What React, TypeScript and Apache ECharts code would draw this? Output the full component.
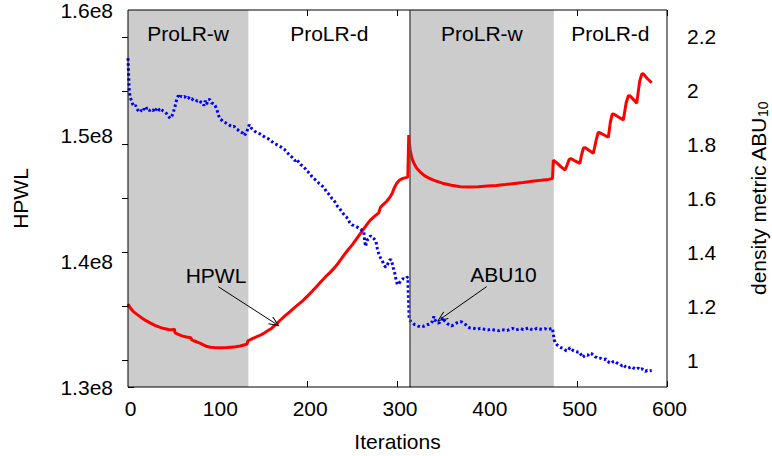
import React, { useEffect, useRef } from "react";
import * as echarts from "echarts";

const FONT = "'Liberation Sans', Arial, Helvetica, sans-serif";

// x-axis ticks (iterations) and y-axis tick values
const iterationTicks = [0, 100, 200, 300, 400, 500, 600];
const hpwlTicks = [1.3, 1.4, 1.5, 1.6]; // in units of 1e8
const abuTicks = [1, 1.2, 1.4, 1.6, 1.8, 2, 2.2];

// optimisation phases
const phaseNames = ["ProLR-w", "ProLR-d", "ProLR-w", "ProLR-d"];
const phaseStarts = [0, 134, 314, 474];
const phaseEnds = [134, 314, 474, 600];
const phaseShaded = [true, false, true, false];
const phaseSwitchIteration = 314;

// HPWL (units of 1e8), [iteration, value]
const hpwlSeries: [number, number][] = [
  [0, 1.366], [3, 1.3625], [6, 1.36], [10, 1.3578], [15, 1.3552], [20, 1.3528], [25, 1.3508],
  [30, 1.349], [35, 1.3476], [40, 1.3465], [45, 1.3458], [50, 1.3455], [51.5, 1.3462], [52.5, 1.343],
  [56, 1.3418], [60, 1.3407], [65, 1.3398], [70, 1.3392], [71, 1.3375], [73, 1.3368], [77, 1.3358],
  [80, 1.3349], [84, 1.3335], [88, 1.3322], [92, 1.3316], [96, 1.3314], [100, 1.3313], [105, 1.3312],
  [110, 1.3314], [115, 1.3317], [120, 1.332], [125, 1.3326], [130, 1.3336], [132.5, 1.3342],
  [133.5, 1.3368], [137, 1.338], [141, 1.3392], [146, 1.3408], [150, 1.3422], [155, 1.3445],
  [160, 1.3468], [165, 1.35], [170, 1.3535], [175, 1.3568], [180, 1.3598], [185, 1.363], [190, 1.366],
  [195, 1.369], [200, 1.3725], [205, 1.3762], [210, 1.38], [215, 1.384], [220, 1.3878], [225, 1.3912],
  [230, 1.395], [235, 1.3995], [240, 1.4045], [245, 1.4092], [250, 1.4135], [255, 1.4185], [260, 1.4235],
  [265, 1.4285], [270, 1.433], [275, 1.4362], [279, 1.4385], [281, 1.4428], [284, 1.4452], [288, 1.4478],
  [292, 1.4515], [294, 1.454], [296, 1.4578], [299, 1.462], [302, 1.4645], [306, 1.466], [311.5, 1.467],
  [312.5, 1.5005], [314, 1.489], [316, 1.482], [318, 1.4785], [321, 1.4745], [325, 1.4712], [330, 1.4682],
  [335, 1.4662], [340, 1.4646], [350, 1.4622], [360, 1.4606], [370, 1.4594], [380, 1.4592], [390, 1.4594],
  [400, 1.4599], [410, 1.4604], [420, 1.4611], [430, 1.4619], [440, 1.4627], [450, 1.4637], [460, 1.4645],
  [468, 1.4652], [472.5, 1.4658], [473.5, 1.4806], [478, 1.478], [482, 1.4752], [486.5, 1.4727],
  [489, 1.477], [491, 1.481], [493, 1.4818], [497, 1.4802], [503, 1.478], [505, 1.485], [507, 1.4902],
  [509, 1.4905], [513, 1.4884], [518, 1.486], [521, 1.496], [523.5, 1.5028], [526, 1.502], [530, 1.5005],
  [534.7, 1.4987], [537, 1.511], [539, 1.5172], [541, 1.517], [546, 1.5148], [551.4, 1.5125],
  [554.5, 1.526], [557, 1.5318], [559, 1.5315], [563, 1.5285], [566.3, 1.5258], [569.5, 1.543],
  [572, 1.5492], [574, 1.549], [578, 1.5455], [583, 1.5421],
];

// density metric ABU10, [iteration, value]
const abuSeries: [number, number][] = [
  [0, 2.121], [0.7, 2.06], [1.4, 2.0], [2.5, 1.975], [4, 1.962], [5.5, 1.948], [7, 1.942], [8.5, 1.946],
  [10, 1.932], [12, 1.924], [13.5, 1.921], [15, 1.928], [16.5, 1.924], [18, 1.933], [19.5, 1.926],
  [21, 1.938], [22.5, 1.93], [24, 1.927], [26, 1.931], [28, 1.926], [29.5, 1.936], [31, 1.929],
  [33, 1.938], [35, 1.927], [37, 1.932], [39, 1.925], [41, 1.922], [43, 1.915], [45, 1.905], [47, 1.898],
  [48.5, 1.903], [50, 1.915], [51.5, 1.932], [53, 1.95], [54.5, 1.972], [56, 1.982], [57.5, 1.974],
  [59, 1.98], [61, 1.976], [63, 1.979], [65, 1.972], [67, 1.976], [69, 1.968], [71, 1.971], [73, 1.964],
  [75, 1.967], [77, 1.962], [79, 1.965], [81, 1.958], [83, 1.955], [84.5, 1.945], [86, 1.963],
  [87.5, 1.95], [89, 1.966], [91, 1.968], [93, 1.955], [95, 1.952], [97, 1.945], [99, 1.93],
  [100.5, 1.912], [102, 1.898], [104, 1.892], [106, 1.885], [108, 1.882], [110, 1.878], [112, 1.875],
  [114, 1.87], [116, 1.866], [118, 1.868], [120, 1.86], [122, 1.856], [124, 1.85], [126, 1.846],
  [128, 1.842], [129, 1.834], [131, 1.84], [132, 1.844], [133.5, 1.862], [135, 1.874], [137, 1.862],
  [139, 1.856], [141, 1.85], [143, 1.846], [145, 1.842], [147, 1.84], [150, 1.833], [153, 1.826],
  [156, 1.822], [159, 1.815], [162, 1.806], [165, 1.801], [168, 1.795], [171, 1.79], [174, 1.783],
  [177, 1.772], [180, 1.76], [183, 1.752], [186, 1.74], [188, 1.746], [190, 1.735], [192, 1.726],
  [195, 1.72], [197, 1.712], [199, 1.702], [201, 1.697], [203, 1.69], [205, 1.68], [207, 1.674],
  [209, 1.668], [211, 1.662], [213, 1.655], [215, 1.65], [217, 1.644], [219, 1.636], [221, 1.625],
  [223, 1.618], [225, 1.61], [227, 1.6], [229, 1.594], [231, 1.584], [233, 1.572], [235, 1.566],
  [237, 1.556], [239, 1.546], [241, 1.538], [243, 1.532], [245, 1.522], [247, 1.51], [249, 1.502],
  [251, 1.5], [253, 1.497], [255, 1.494], [257, 1.49], [259, 1.486], [261, 1.48], [262.5, 1.478],
  [263.5, 1.44], [264.5, 1.422], [266, 1.445], [268, 1.45], [270, 1.462], [272, 1.455], [274, 1.45],
  [276, 1.44], [277.5, 1.415], [279, 1.396], [281, 1.38], [283, 1.37], [285, 1.352], [287, 1.345],
  [289, 1.356], [291, 1.37], [292.5, 1.374], [294, 1.36], [295.5, 1.34], [297, 1.322], [298.5, 1.296],
  [300, 1.28], [302, 1.286], [304, 1.297], [306, 1.302], [308, 1.3], [310, 1.306], [311.5, 1.308],
  [312, 1.25], [312.5, 1.2], [313, 1.15], [315, 1.143], [317, 1.138], [319, 1.132], [321, 1.13],
  [323, 1.126], [325, 1.124], [327, 1.127], [329, 1.125], [331, 1.128], [333, 1.131], [335, 1.133],
  [337, 1.136], [339, 1.144], [340.5, 1.162], [342, 1.148], [343.5, 1.142], [345, 1.137], [347, 1.14],
  [349, 1.15], [350.5, 1.158], [352, 1.147], [354, 1.14], [356, 1.134], [358, 1.131], [360, 1.127],
  [362, 1.13], [364, 1.134], [366, 1.138], [368, 1.14], [370, 1.143], [372, 1.141], [374, 1.136],
  [376, 1.131], [378, 1.124], [380, 1.12], [383, 1.119], [386, 1.117], [389, 1.114], [392, 1.118],
  [395, 1.116], [398, 1.113], [401, 1.112], [404, 1.115], [407, 1.112], [410, 1.111], [413, 1.109],
  [416, 1.113], [419, 1.112], [422, 1.11], [425, 1.114], [428, 1.118], [431, 1.112], [434, 1.114],
  [437, 1.117], [440, 1.113], [443, 1.116], [446, 1.12], [449, 1.114], [452, 1.112], [455, 1.118],
  [458, 1.115], [461, 1.114], [464, 1.117], [467, 1.113], [470, 1.116], [472.5, 1.118], [473.5, 1.095],
  [474.5, 1.075], [476, 1.062], [478, 1.055], [480, 1.05], [482, 1.046], [484, 1.044], [486, 1.04],
  [488, 1.034], [490, 1.036], [492, 1.046], [494, 1.04], [496, 1.034], [498, 1.032], [500, 1.03],
  [502, 1.031], [504, 1.022], [506, 1.01], [508, 1.016], [510, 1.02], [512, 1.018], [514, 1.026],
  [516, 1.024], [518, 1.018], [520, 1.012], [522, 1.01], [524, 1.006], [526, 1.007], [528, 1.003],
  [530, 1.002], [532, 1.004], [534, 0.996], [536, 0.99], [538, 0.988], [540, 0.994], [542, 0.996],
  [544, 0.99], [546, 0.987], [548, 0.984], [550, 0.978], [552, 0.982], [554, 0.974], [556, 0.97],
  [558, 0.972], [560, 0.976], [562, 0.972], [564, 0.969], [566, 0.966], [568, 0.97], [570, 0.964],
  [572, 0.968], [574, 0.962], [576, 0.958], [578, 0.962], [580, 0.96], [583, 0.961],
];

// annotations: label position and arrow [from, to] in data coordinates
const hpwlLabelAt: [number, number] = [98, 1.3891];
const hpwlArrow: [number, number][] = [[100.5, 1.3798], [163.6, 1.3507]];
const abuLabelAt: [number, number] = [418, 1.3163];
const abuArrow: [number, number][] = [[399.3, 1.2729], [349.2, 1.1556]];

const ARROW = "path://M5,0L10,12L9,12.6L5,2.6L1,12.6L0,12Z";
const TXT = { fontFamily: FONT, fontSize: 21, color: "#000" };

function buildOption() {
  const tickStyle = { show: true, inside: true, length: 6, lineStyle: { color: "#000", width: 1 } };
  const areas = phaseNames.map((name, i) => [
    {
      name,
      xAxis: phaseStarts[i],
      itemStyle: { color: phaseShaded[i] ? "#cccccc" : "rgba(0,0,0,0)" },
    },
    { xAxis: phaseEnds[i] },
  ]);
  return {
    animation: false,
    textStyle: { fontFamily: FONT },
    grid: {
      left: 128, right: 105, top: 10, bottom: 69,
      outerBoundsMode: "none", containLabel: false,
      show: true, borderColor: "#000", borderWidth: 1, backgroundColor: "rgba(0,0,0,0)", z: 6,
    },
    xAxis: [
      {
        type: "value", min: iterationTicks[0], max: iterationTicks[iterationTicks.length - 1],
        interval: 100, position: "bottom",
        name: "Iterations", nameLocation: "middle", nameGap: 44, nameTextStyle: TXT,
        axisLine: { show: false }, axisTick: tickStyle,
        axisLabel: { ...TXT, margin: 11, padding: [0, 0, 0, 5] }, splitLine: { show: false },
      },
      {
        type: "value", min: iterationTicks[0], max: iterationTicks[iterationTicks.length - 1],
        interval: 100, position: "top",
        axisLine: { show: false }, axisTick: tickStyle,
        axisLabel: { show: false }, splitLine: { show: false },
      },
    ],
    yAxis: [
      {
        type: "value", min: hpwlTicks[0], max: hpwlTicks[hpwlTicks.length - 1], interval: 0.1,
        position: "left", name: "HPWL", nameLocation: "middle", nameGap: 97, nameTextStyle: TXT,
        axisLine: { show: false }, axisTick: tickStyle,
        axisLabel: { ...TXT, margin: 15, formatter: (v: number) => v.toFixed(1) + "e8" },
        splitLine: { show: false },
      },
      {
        type: "value", min: 0.9, max: 2.3, position: "right",
        name: "{a|density metric ABU}{b|10}", nameLocation: "middle", nameGap: 79,
        nameTextStyle: {
          color: "#000",
          rich: {
            a: { fontFamily: FONT, fontSize: 21, color: "#000", lineHeight: 24 },
            b: { fontFamily: FONT, fontSize: 14, color: "#000", lineHeight: 14, verticalAlign: "bottom" },
          },
        },
        axisLine: { show: false },
        axisTick: { ...tickStyle, customValues: abuTicks },
        axisLabel: {
          ...TXT, margin: 20, customValues: abuTicks,
          formatter: (v: number) => String(Number(v.toFixed(1))),
        },
        splitLine: { show: false },
      },
    ],
    series: [
      {
        type: "line", name: "HPWL", xAxisIndex: 0, yAxisIndex: 0, data: hpwlSeries,
        symbol: "none", showSymbol: false, z: 3,
        lineStyle: { color: "#ff0000", width: 3 }, itemStyle: { color: "#ff0000" },
        markArea: {
          silent: true, z: 1,
          label: { show: true, position: "insideTop", distance: 13, ...TXT },
          data: areas,
        },
        markLine: {
          silent: true, symbol: ["none", "none"], label: { show: false }, z: 5,
          lineStyle: { type: "solid" },
          data: [
            { xAxis: phaseSwitchIteration, lineStyle: { color: "#555555", width: 1.5, type: "solid" } },
            [
              { coord: hpwlArrow[0], symbol: "none", lineStyle: { color: "#000", width: 1, type: "solid" } },
              { coord: hpwlArrow[1], symbol: ARROW, symbolSize: [9, 11] },
            ],
          ],
        },
        markPoint: {
          silent: true, symbol: "circle", symbolSize: 1, itemStyle: { color: "rgba(0,0,0,0)" },
          label: { show: true, position: "inside", ...TXT, formatter: "{b}" },
          data: [{ name: "HPWL", coord: hpwlLabelAt }],
        },
      },
      {
        type: "line", name: "ABU10", xAxisIndex: 0, yAxisIndex: 1, data: abuSeries,
        symbol: "none", showSymbol: false, z: 3,
        lineStyle: { color: "#0000ff", width: 3, type: [2.5, 2.5] }, itemStyle: { color: "#0000ff" },
        markLine: {
          silent: true, symbol: ["none", "none"], label: { show: false }, z: 5,
          data: [
            [
              { coord: abuArrow[0], symbol: "none", lineStyle: { color: "#000", width: 1, type: "solid" } },
              { coord: abuArrow[1], symbol: ARROW, symbolSize: [9, 11] },
            ],
          ],
        },
        markPoint: {
          silent: true, symbol: "circle", symbolSize: 1, itemStyle: { color: "rgba(0,0,0,0)" },
          label: { show: true, position: "inside", ...TXT, formatter: "{b}" },
          data: [{ name: "ABU10", coord: abuLabelAt }],
        },
      },
    ],
  };
}

export default function App() {
  const ref = useRef<HTMLDivElement>(null);
  useEffect(() => {
    if (!ref.current) return;
    const chart = echarts.init(ref.current, undefined, { renderer: "svg" });
    chart.setOption(buildOption() as any);
    return () => chart.dispose();
  }, []);
  return (
    <div
      ref={ref}
      style={{ position: "fixed", left: 0, top: 0, width: 772, height: 456, background: "#fff" }}
    />
  );
}
